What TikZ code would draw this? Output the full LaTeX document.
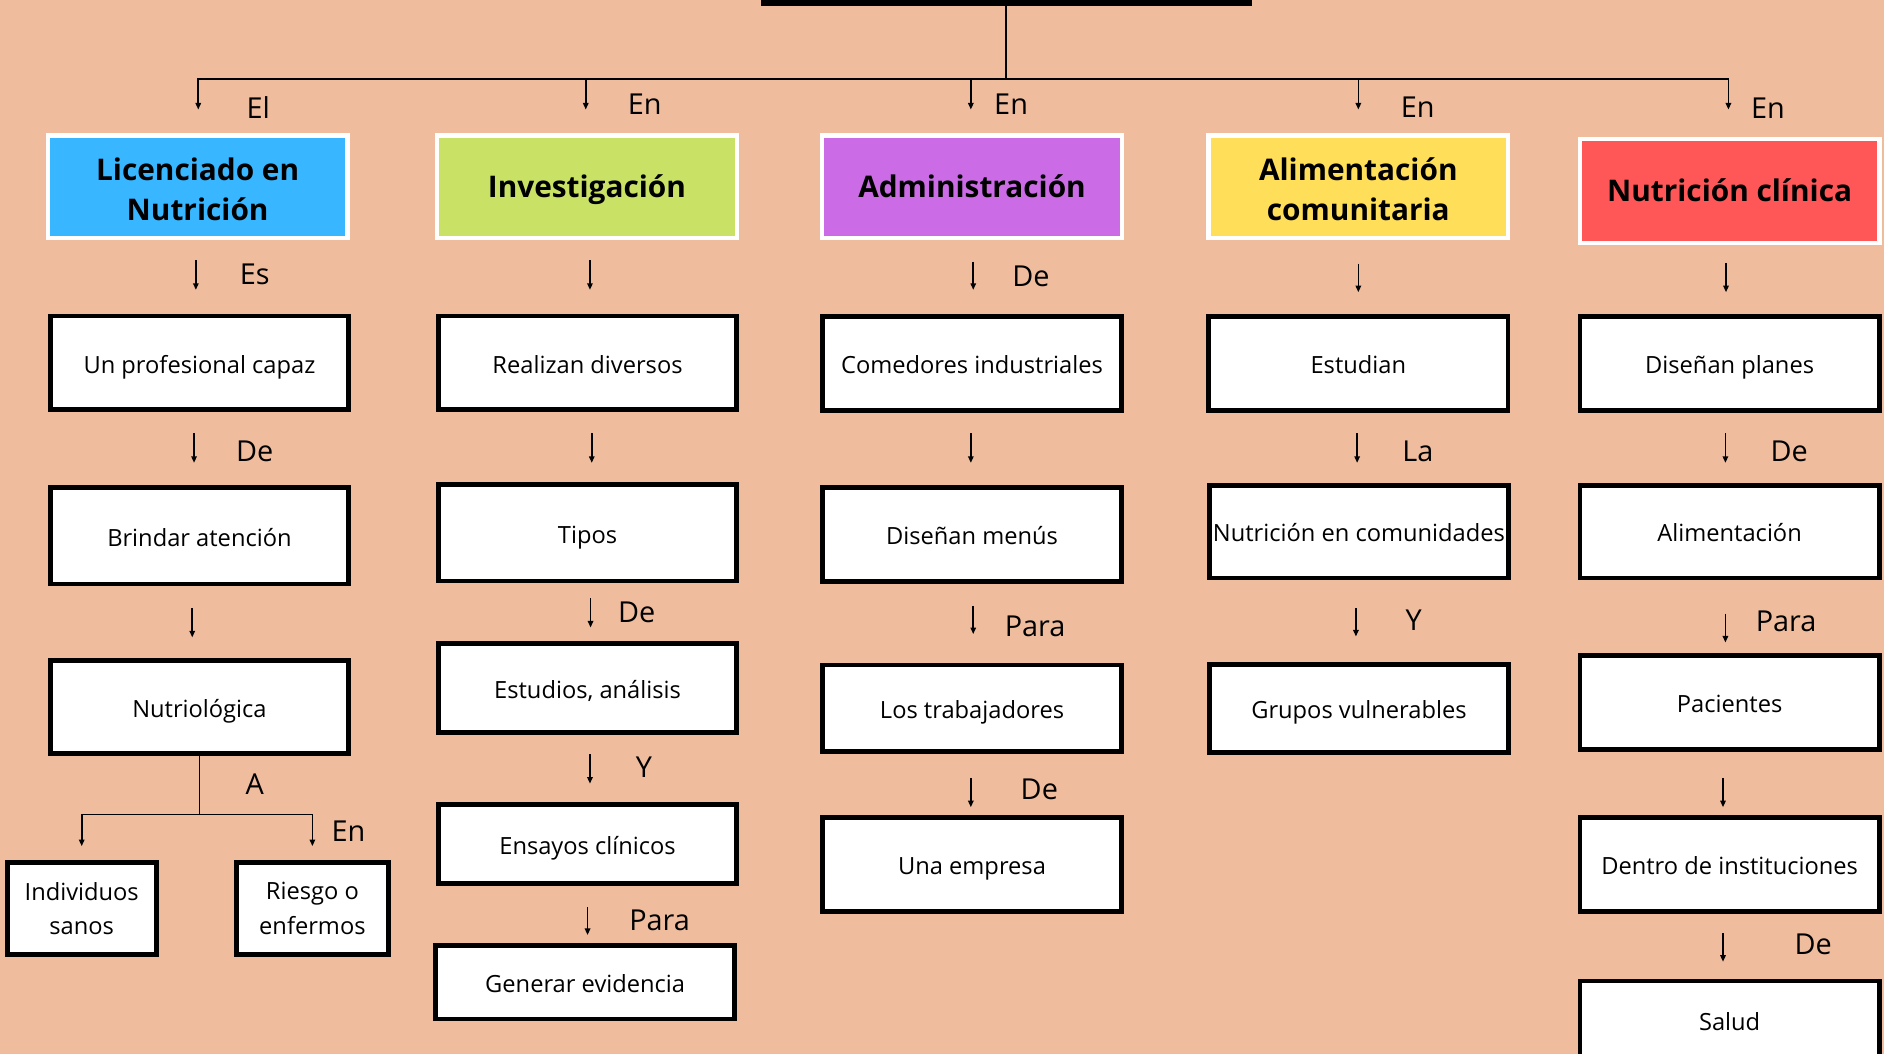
\documentclass[tikz,border=0pt]{standalone}
\usepackage{fontspec}
\setmainfont{Open Sans}
\usetikzlibrary{arrows.meta}
\definecolor{bg}{HTML}{EFBD9E}
\definecolor{cblue}{HTML}{38B6FF}
\definecolor{cgreen}{HTML}{C9E265}
\definecolor{cpurple}{HTML}{CB6CE6}
\definecolor{cyellow}{HTML}{FFDE59}
\definecolor{cred}{HTML}{FF5757}
\newcommand\varrow[5]{\draw[arr,shorten <=#4pt,shorten >=#5pt] ([xshift=#3pt]#1.south) -- ([xshift=#3pt]#1.south |- #2.north);}
\begin{document}
\begin{tikzpicture}[x=1pt,y=-1pt,
  line/.style={line width=1.4pt},
  arr/.style={line width=1.4pt,-{Triangle[length=5.5pt,width=4.5pt]}},
  hbox/.style={draw=white,line width=3.6pt,minimum width=249.4pt,minimum height=85.4pt,inner sep=0pt,align=center,font=\fontsize{24.8}{33}\selectfont\bfseries},
  hone/.style={hbox,text height=17.7pt,text depth=0pt},
  htext/.style={inner sep=0pt,align=center,font=\fontsize{24.8}{33}\selectfont\bfseries},
  wbox/.style={draw=black,fill=white,line width=4pt,minimum width=248.5pt,inner sep=0pt,align=center,font=\fontsize{19.7}{28.5}\selectfont},
  wone/.style={wbox,text height=17pt,text depth=0pt},
  lab/.style={font=\fontsize{24}{24}\selectfont,inner sep=0pt,text height=17pt,text depth=0pt},
]
\fill[bg] (0,0) rectangle (1568,877);
\clip (0,0) rectangle (1568,877);

% title bar (cut off)
\node[fill=black,minimum width=408.5pt,minimum height=40pt,inner sep=0pt] (title) at (837.5,-15.25) {};

% headers
\node[hbox,fill=cblue]   (h1) at (164.5,155.5) {};
\node[htext] (h1t) at ([yshift=-2pt]h1.center) {Licenciado en\\Nutrición};
\node[hone,fill=cgreen]  (h2) at (488.5,155.5) {Investigación};
\node[hone,fill=cpurple] (h3) at (809,155.5) {Administración};
\node[hbox,fill=cyellow] (h4) at (1130.5,155.5) {};
\node[htext] (h4t) at ([yshift=-2pt]h4.center) {Alimentación\\comunitaria};
\node[hone,fill=cred,minimum height=86.4pt] (h5) at (1439.5,159) {Nutrición clínica};

% column 1
\node[wone,minimum height=78pt] (c1r1) at (166,302) {Un profesional capaz};
\node[wone,minimum height=80pt] (c1r2) at (166,446) {Brindar atención};
\node[wone,minimum height=77pt] (c1r3) at (166,588.5) {Nutriológica};
\node[wbox,minimum width=124pt,minimum height=77pt] (ind) at (68,756) {Individuos\\sanos};
\node[wbox,minimum width=126pt,minimum height=77pt] (rie) at (260,756) {Riesgo o\\enfermos};

% column 2
\node[wone,minimum height=78pt] (c2r1) at (489,302) {Realizan diversos};
\node[wone,minimum height=80pt] (c2r2) at (489,443.5) {Tipos};
\node[wone,minimum height=74pt] (c2r3) at (489,572.5) {Estudios, análisis};
\node[wone,minimum height=66pt] (c2r4) at (489,702.5) {Ensayos clínicos};
\node[wone,minimum height=61pt] (c2r5) at (487,817.5) {Generar evidencia};

% column 3
\node[wone,minimum height=78pt] (c3r1) at (809,302.5) {Comedores industriales};
\node[wone,minimum height=78pt] (c3r2) at (809,445) {Diseñan menús};
\node[wone,minimum height=72pt] (c3r3) at (809,589.5) {Los trabajadores};
\node[wone,minimum height=78pt] (c3r4) at (809,719.5) {Una empresa};

% column 4
\node[wone,minimum width=249pt,minimum height=78pt] (c4r1) at (1130.5,302.5) {Estudian};
\node[wone,minimum width=249pt,minimum height=77pt] (c4r2) at (1131,442.5) {Nutrición en comunidades};
\node[wone,minimum width=249pt,minimum height=73.5pt] (c4r3) at (1131,589.5) {Grupos vulnerables};

% column 5
\node[wone,minimum width=249pt,minimum height=78pt] (c5r1) at (1439.5,302.5) {Diseñan planes};
\node[wone,minimum width=249pt,minimum height=77pt] (c5r2) at (1439.5,442.5) {Alimentación};
\node[wone,minimum width=249pt,minimum height=78pt] (c5r3) at (1439.5,584.5) {Pacientes};
\node[wone,minimum width=249pt,minimum height=78pt] (c5r4) at (1439.5,719.5) {Dentro de instituciones};
\node[wone,minimum width=249pt,minimum height=66pt] (c5r5) at (1439.5,849.5) {Salud};

% top connectors
\coordinate (j) at (837.5,66);
\coordinate (d1) at (165,66);
\coordinate (d2) at (487.5,66);
\coordinate (d3) at (808,66);
\coordinate (d4) at (1130.5,66);
\coordinate (d5) at (1438.5,66);
\draw[line] (title.south) -- (j);
\draw[line,line cap=rect] (d1) -- (d5);
\draw[arr,shorten >=19.8pt] (d1) -- (d1 |- h1.north);
\draw[arr,shorten >=19.8pt] (d2) -- (d2 |- h2.north);
\draw[arr,shorten >=19.8pt] (d3) -- (d3 |- h3.north);
\draw[arr,shorten >=19.8pt] (d4) -- (d4 |- h4.north);
\draw[arr,shorten >=22.8pt] (d5) -- (d5 |- h5.north);

% header -> first row
\varrow{h1}{c1r1}{-1.5}{16.75}{19.75}
\varrow{h2}{c2r1}{2.5}{16.75}{19.75}
\varrow{h3}{c3r1}{1}{17.75}{20.25}
\varrow{h4}{c4r1}{0}{19.35}{18.25}
\varrow{h5}{c5r1}{-3}{14.75}{18.25}

% first -> second row
\varrow{c1r1}{c1r2}{-4.5}{17.75}{18.75}
\varrow{c2r1}{c2r2}{3.5}{17.75}{16.25}
\varrow{c3r1}{c3r2}{-1}{17.25}{18.75}
\varrow{c4r1}{c4r2}{-1}{17.25}{16.75}
\varrow{c5r1}{c5r2}{-3.5}{17.25}{16.75}

% second -> third row
\varrow{c1r2}{c1r3}{-6}{18}{17.5}
\varrow{c2r2}{c2r3}{2.5}{12.25}{11.25}
\varrow{c3r2}{c3r3}{1}{18.15}{23.75}
\varrow{c4r2}{c4r3}{-2.5}{23}{21}
\varrow{c5r2}{c5r3}{-3.5}{27.75}{8.75}

% third -> fourth row
\varrow{c2r3}{c2r4}{2}{16.25}{15.25}
\varrow{c3r3}{c3r4}{-1}{19.85}{6.65}
\varrow{c5r3}{c5r4}{-5.5}{21.85}{6.65}

% fourth -> fifth row
\varrow{c2r4}{c2r5}{0}{17.25}{6.75}
\varrow{c5r4}{c5r5}{-5.5}{16.25}{14.05}

% Nutriologica branch
\coordinate (nj) at (166,678);
\draw[line] (c1r3.south) -- (nj);
\draw[arr,shorten >=11.25pt] (nj) -| (ind.north);
\draw[arr,shorten >=11.25pt] (nj) -| (rie.north);

% labels
\node[lab] (l1)  at (215,90) {El};
\node[lab] (l2)  at (536.5,86.7) {En};
\node[lab] (l3)  at (841.5,86.7) {En};
\node[lab] (l4)  at (1180,89) {En};
\node[lab] (l5)  at (1471.5,90) {En};
\node[lab] (l6)  at (212,228) {Es};
\node[lab] (l7)  at (858,230) {De};
\node[lab] (l8)  at (212,375.7) {De};
\node[lab] (l9)  at (1180,376) {La};
\node[lab] (l10) at (1489,376) {De};
\node[lab] (l11) at (530,510) {De};
\node[lab] (l12) at (861.5,521) {Para};
\node[lab] (l13) at (1176.5,516.4) {Y};
\node[lab] (l14) at (1486.5,517) {Para};
\node[lab] (l15) at (212,652.6) {A};
\node[lab] (l16) at (536,638.6) {Y};
\node[lab] (l17) at (290,691.7) {En};
\node[lab] (l18) at (865,656.8) {De};
\node[lab] (l19) at (549,766) {Para};
\node[lab] (l20) at (1509,786.3) {De};
\end{tikzpicture}
\end{document}
